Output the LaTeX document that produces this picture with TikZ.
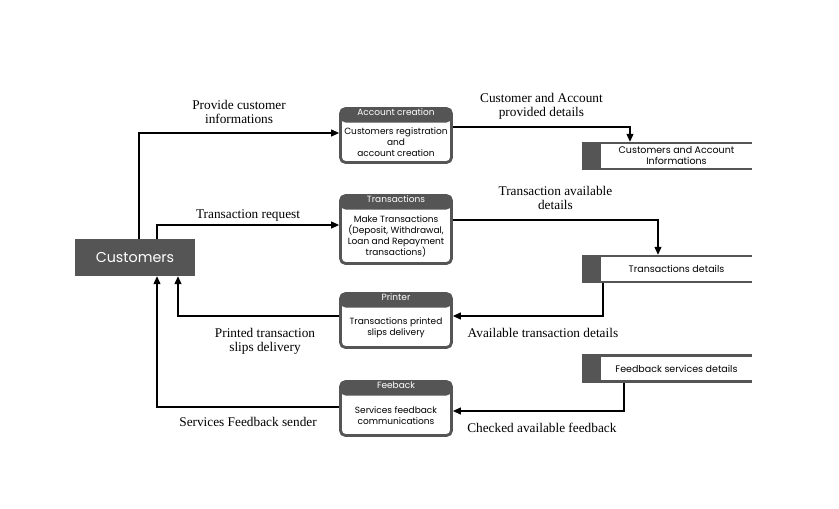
\documentclass[tikz,border=0pt]{standalone}
\usepackage{fontspec}
\setmainfont{Liberation Serif}
\newfontfamily\boxfont{Poppins}
\usetikzlibrary{arrows.meta, positioning}
\definecolor{cdark}{HTML}{555555}
\tikzset{
  every picture/.style={x=1pt, y=-1pt},
  entity/.style={fill=cdark, text=white, font=\boxfont\fontsize{14.3}{17}\selectfont, minimum width=120pt, minimum height=37pt},
  proc/.style={draw=cdark, line width=2.8pt, rounded corners=5pt, minimum width=111pt, minimum height=#1,
    path picture={\fill[cdark] (path picture bounding box.north west) rectangle ([yshift=-14pt]path picture bounding box.north east);}},
  proc/.default=54pt,
  prochead/.style={anchor=north, text=white, font=\boxfont\fontsize{9}{10}\selectfont, inner sep=1.8pt},
  procbody/.style={align=center, font=\boxfont\fontsize{9}{11}\selectfont, inner sep=0pt},
  store/.style={minimum width=151pt, minimum height=28pt, inner sep=0pt, align=center, font=\boxfont\fontsize{9.5}{11}\selectfont},
  flow/.style={-{Triangle[length=8pt, width=7pt]}, line width=1.1pt},
  flowlbl/.style={align=center, font=\fontsize{13.3}{14}\selectfont},
}

\begin{document}
\begin{tikzpicture}
  \useasboundingbox (0,0) rectangle (839,509);

  \node[entity] (cust) at (135,257.5) {Customers};

  \node[proc] (acc) at (396,135.5) {};
  \node[prochead] (acc-h) at (acc.north) {Account creation};
  \node[procbody] (acc-b) at ([yshift=-7pt]acc.center) {Customers registration\\and\\account creation};

  \node[proc=68pt] (trn) at (396,229.5) {};
  \node[prochead] (trn-h) at (trn.north) {Transactions};
  \node[procbody] (trn-b) at ([yshift=-7pt]trn.center) {Make Transactions\\(Deposit, Withdrawal,\\Loan and Repayment\\transactions)};

  \node[proc] (prt) at (396,320.5) {};
  \node[prochead] (prt-h) at (prt.north) {Printer};
  \node[procbody] (prt-b) at ([yshift=-7pt]prt.center) {Transactions printed\\slips delivery};

  \node[proc] (fdb) at (396,408.5) {};
  \node[prochead] (fdb-h) at (fdb.north) {Feeback};
  \node[procbody] (fdb-b) at ([yshift=-7pt]fdb.center) {Services feedback\\communications};

  \node[store] (cai) at (676.5,156) {Customers and Account\\Informations};
  \node[store] (trd) at (676.5,269) {Transactions details};
  \node[store] (fbd) at (676.5,368.5) {Feedback services details};
  \foreach \s in {cai, trd, fbd} {
    \fill[cdark] ([xshift=-19pt]\s.north west) rectangle (\s.south west);
    \fill[cdark] ([xshift=-19pt]\s.north west) rectangle ([yshift=-2.5pt]\s.north east);
    \fill[cdark] ([xshift=-19pt]\s.south west) rectangle ([yshift=2.5pt]\s.south east);
  }

  \draw[flow] ([xshift=4pt]cust.north) |- node[flowlbl, above=5pt, pos=0.75] (l-prov) {Provide customer\\informations} ([yshift=2.5pt]acc.west);
  \draw[flow] ([xshift=22pt]cust.north) |- node[flowlbl, above, pos=0.75] (l-req) {Transaction request} ([yshift=4.5pt]trn.west);
  \draw[flow] ([yshift=8.5pt]acc.east) -| node[flowlbl, above=4pt, pos=0.25] (l-cad) {Customer and Account\\provided details} ([xshift=-46.5pt]cai.north);
  \draw[flow] ([yshift=9.5pt]trn.east) -| node[flowlbl, above=6pt, pos=0.25] (l-tad) {Transaction available\\details} ([xshift=-18.5pt]trd.north);
  \draw[flow] ([xshift=-73.5pt]trd.south) |- node[flowlbl, below=8pt, pos=0.7] (l-atd) {Available transaction details} ([yshift=4.5pt]prt.east);
  \draw[flow] ([xshift=-52.5pt]fbd.south) |- node[flowlbl, below=8pt, pos=0.74] (l-caf) {Checked available feedback} ([yshift=-2.5pt]fdb.east);
  \draw[flow] ([yshift=4.5pt]prt.west) -| node[flowlbl, below=8pt, pos=0.23] (l-psd) {Printed transaction\\slips delivery} ([xshift=43pt]cust.south);
  \draw[flow] ([yshift=1.5pt]fdb.west) -| node[flowlbl, below=6pt, pos=0.25] (l-sfs) {Services Feedback sender} ([xshift=22pt]cust.south);
\end{tikzpicture}
\end{document}
